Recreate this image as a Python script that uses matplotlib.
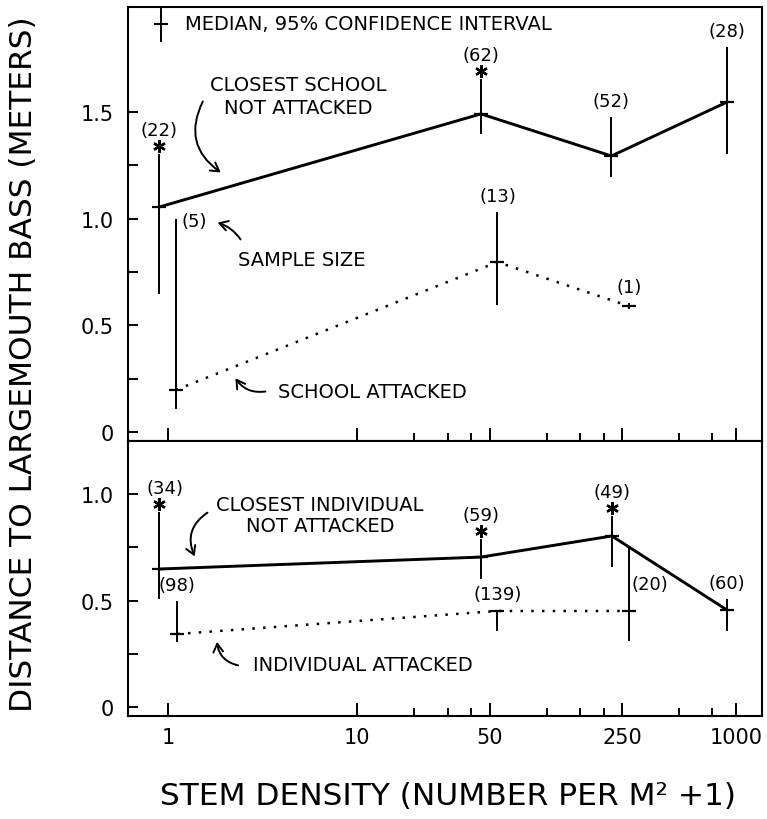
import matplotlib
matplotlib.use('Agg')
import matplotlib.pyplot as plt
from matplotlib.ticker import FixedLocator, NullFormatter
from matplotlib.transforms import offset_copy

# top panel: schools
school_x = [0.9, 45, 220, 900]
school_med = [1.054, 1.49, 1.293, 1.546]
school_lo = [0.646, 1.396, 1.194, 1.302]
school_hi = [1.30, 1.653, 1.475, 1.803]
school_n = [22, 62, 52, 28]
school_sig = [True, True, False, False]

att_school_x = [1.1, 55, 272]
att_school_med = [0.197, 0.796, 0.59]
att_school_lo = [0.108, 0.595, 0.578]
att_school_hi = [0.998, 1.03, 0.602]
att_school_n = [5, 13, 1]

# bottom panel: individuals
ind_x = [0.9, 45, 221, 900]
ind_med = [0.648, 0.704, 0.803, 0.455]
ind_lo = [0.507, 0.601, 0.657, 0.357]
ind_hi = [0.915, 0.789, 0.897, 0.507]
ind_n = [34, 59, 49, 60]
ind_sig = [True, True, True, False]

att_ind_x = [1.12, 55, 272]
att_ind_med = [0.343, 0.451, 0.451]
att_ind_lo = [0.305, 0.357, 0.31]
att_ind_hi = [0.498, 0.455, 0.751]
att_ind_n = [98, 139, 20]

x_ticks = [1, 10, 50, 250, 1000]
x_minor = [20, 30, 40, 100, 150, 200, 500, 750]

fig = plt.figure(figsize=(7.67, 8.2), dpi=100)
ax1 = fig.add_axes([0.1669, 0.4610, 0.8266, 0.5293])
ax2 = fig.add_axes([0.1669, 0.1256, 0.8266, 0.3354])


def draw_series(ax, x, med, lo, hi, dotted=False):
    if dotted:
        ax.plot(x, med, color='k', lw=1.8, linestyle=(0, (1, 3.3)))
    else:
        ax.plot(x, med, color='k', lw=2.1)
    ax.vlines(x, lo, hi, color='k', lw=1.4)
    ax.plot(x, med, linestyle='none', marker='_', ms=9.5, mew=1.6, color='k')


def draw_stars(ax, x, hi, sig):
    tr = offset_copy(ax.transData, fig=fig, x=0, y=8, units='dots')
    sx = [a for a, s in zip(x, sig) if s]
    sy = [b for b, s in zip(hi, sig) if s]
    ax.plot(sx, sy, transform=tr, linestyle='none', marker=(6, 2, 0),
            ms=9, mew=1.7, color='k')


def draw_counts(ax, x, hi, n, sig=None, special=None):
    special = special or {}
    for i, (a, b, k) in enumerate(zip(x, hi, n)):
        dx, dy, ha = 0, 16, 'center'
        if sig is not None and sig[i]:
            dy += 8
        if i in special:
            dx, dy, ha = special[i]
        ax.annotate(f'({k})', xy=(a, b), xytext=(dx, dy), textcoords='offset pixels',
                    ha=ha, va='center', fontsize=13)


# top panel
draw_series(ax1, school_x, school_med, school_lo, school_hi)
draw_series(ax1, att_school_x, att_school_med, att_school_lo, att_school_hi, dotted=True)
draw_stars(ax1, school_x, school_hi, school_sig)
draw_counts(ax1, school_x, school_hi, school_n, school_sig)
draw_counts(ax1, att_school_x, att_school_hi, att_school_n, special={0: (6, -2, 'left')})

# bottom panel
draw_series(ax2, ind_x, ind_med, ind_lo, ind_hi)
draw_series(ax2, att_ind_x, att_ind_med, att_ind_lo, att_ind_hi, dotted=True)
draw_stars(ax2, ind_x, ind_hi, ind_sig)
draw_counts(ax2, ind_x, ind_hi, ind_n, ind_sig, special={0: (6, 24, 'center')})
draw_counts(ax2, att_ind_x, att_ind_hi, att_ind_n, special={2: (3, -37, 'left')})

# legend symbol
ax1.plot([0.052, 0.052], [0.922, 0.995], transform=ax1.transAxes, color='k', lw=1.4)
ax1.plot([0.0425, 0.0615], [0.961, 0.961], transform=ax1.transAxes, color='k', lw=1.5)
ax1.text(0.090, 0.961, 'MEDIAN, 95% CONFIDENCE INTERVAL', transform=ax1.transAxes,
         ha='left', va='center', fontsize=14)

arrow = dict(arrowstyle='->,head_length=0.6,head_width=0.35', color='k', lw=1.4)

ax1.text(0.268, 0.795, 'CLOSEST SCHOOL\nNOT ATTACKED', transform=ax1.transAxes,
         ha='center', va='center', fontsize=14, linespacing=1.25)
ax1.annotate('', xy=(0.150, 0.615), xytext=(0.120, 0.788), xycoords='axes fraction',
             arrowprops=dict(arrow, connectionstyle='arc3,rad=0.45'))
ax1.text(0.274, 0.419, 'SAMPLE SIZE', transform=ax1.transAxes,
         ha='center', va='center', fontsize=14)
ax1.annotate('', xy=(0.137, 0.505), xytext=(0.180, 0.459), xycoords='axes fraction',
             arrowprops=dict(arrow, connectionstyle='arc3,rad=0.2'))
ax1.text(0.386, 0.115, 'SCHOOL ATTACKED', transform=ax1.transAxes,
         ha='center', va='center', fontsize=14)
ax1.annotate('', xy=(0.167, 0.150), xytext=(0.221, 0.115), xycoords='axes fraction',
             arrowprops=dict(arrow, connectionstyle='arc3,rad=-0.35'))

ax2.text(0.303, 0.731, 'CLOSEST INDIVIDUAL\nNOT ATTACKED', transform=ax2.transAxes,
         ha='center', va='center', fontsize=14, linespacing=1.1)
ax2.annotate('', xy=(0.107, 0.571), xytext=(0.129, 0.745), xycoords='axes fraction',
             arrowprops=dict(arrow, connectionstyle='arc3,rad=0.45'))
ax2.text(0.371, 0.189, 'INDIVIDUAL ATTACKED', transform=ax2.transAxes,
         ha='center', va='center', fontsize=14)
ax2.annotate('', xy=(0.140, 0.280), xytext=(0.178, 0.182), xycoords='axes fraction',
             arrowprops=dict(arrow, connectionstyle='arc3,rad=-0.4'))

# axes styling
for ax, ylim, yt, ymin in [(ax1, (-0.042, 1.991), [0, 0.5, 1.0, 1.5], [0.25, 0.75, 1.25]),
                           (ax2, (-0.042, 1.249), [0, 0.5, 1.0], [0.25, 0.75])]:
    ax.set_xscale('log')
    ax.set_xlim(0.615, 1374)
    ax.set_ylim(*ylim)
    ax.set_yticks(yt)
    ax.set_yticklabels(['0' if v == 0 else f'{v:.1f}' for v in yt])
    ax.yaxis.set_minor_locator(FixedLocator(ymin))
    ax.xaxis.set_major_locator(FixedLocator(x_ticks))
    ax.xaxis.set_minor_locator(FixedLocator(x_minor))
    ax.xaxis.set_minor_formatter(NullFormatter())
    ax.tick_params(axis='y', which='both', direction='in', length=7.2, width=1.4,
                   labelsize=15, pad=10.5, right=False)
    ax.tick_params(axis='x', which='major', direction='in', length=9.4, width=1.4,
                   labelsize=15, pad=8, top=False)
    ax.tick_params(axis='x', which='minor', direction='in', length=5.8, width=1.4, top=False)
    for sp in ax.spines.values():
        sp.set_linewidth(1.5)

ax1.tick_params(axis='x', labelbottom=False)
ax2.set_xticklabels([str(v) for v in x_ticks])

fig.text(24 / 767, 1 - 364 / 820, 'DISTANCE TO LARGEMOUTH BASS (METERS)', rotation=90,
         ha='center', va='center', fontsize=22.5)
fig.text(448 / 767, 1 - 797 / 820, 'STEM DENSITY (NUMBER PER M² +1)',
         ha='center', va='center', fontsize=22.5)

fig.savefig('out.png', dpi=100)
